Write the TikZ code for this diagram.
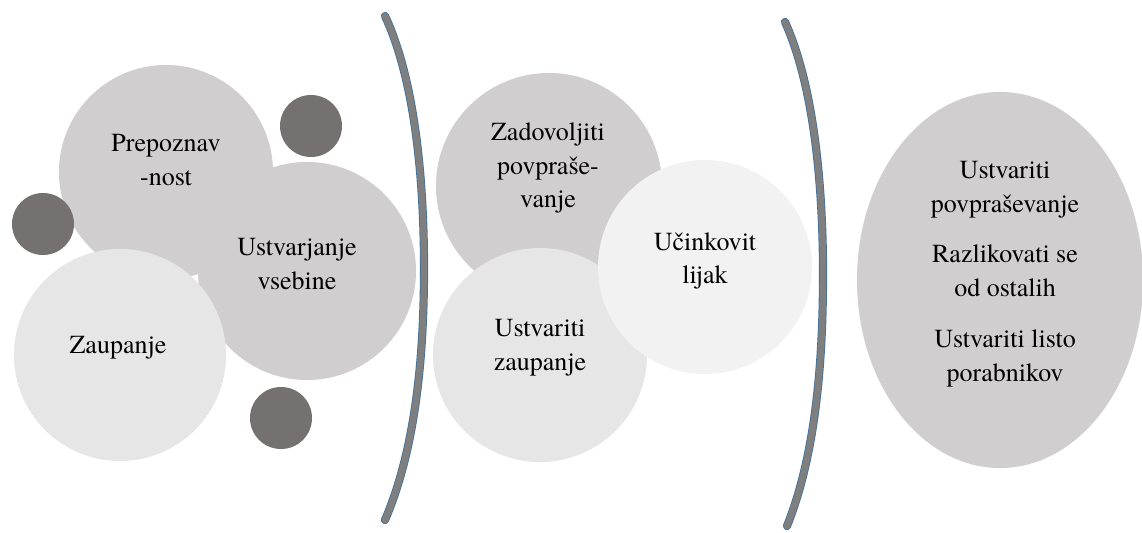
\documentclass[tikz,border=0pt]{standalone}
\usepackage{fontspec}
\setmainfont{TeX Gyre Termes}
\usetikzlibrary{shapes.geometric}
\definecolor{grayA}{HTML}{D0CECE}
\definecolor{grayB}{HTML}{E7E6E6}
\definecolor{grayC}{HTML}{F2F2F2}
\definecolor{dotgray}{HTML}{767171}
\definecolor{bracegray}{HTML}{7F7F7F}
\definecolor{braceblue}{HTML}{41719C}

\begin{document}
\begin{tikzpicture} [x=0.025cm,y=-0.025cm,myc/.style={circle, inner sep=0pt, minimum size=5.4cm},myd/.style={circle, fill=dotgray, inner sep=0pt, minimum size=1.55cm},myt/.style={align=center, inner sep=0pt, font=\rmfamily\fontsize{18.5}{24}\selectfont},myb/.style={draw=bracegray, line width=4.6pt, line cap=round, preaction={draw=braceblue, line width=5.8pt, line cap=round}}]
  \useasboundingbox (0,0) rectangle (1142,532);

  % first group
  \node[myc, fill=grayA, minimum size=5.35cm] (prep) at (166,172) {};
  \node[myc, fill=grayA, minimum size=5.45cm] (vseb) at (307,271) {};
  \node[myc, fill=grayB, minimum size=5.3cm] (zaup) at (120,355) {};

  \node[myd] (d1) at (311,126) {};
  \node[myd] (d2) at (43,224) {};
  \node[myd] (d3) at (281,418) {};

  \node[myt] (prept) at (166,160) {Prepoznav\\-nost};
  \node[myt] (vsebt) at (297,264) {Ustvarjanje\\vsebine};
  \node[myt] (zaupt) at (118,348) {Zaupanje};

  \draw[myb] (385,16) .. controls (415,80) and (424,180) .. (424,268)
    .. controls (424,360) and (415,450) .. (385,520);

  % second group
  \node[myc, fill=grayA, minimum size=5.65cm] (zado) at (549,186) {};
  \node[myc, fill=grayB, minimum size=5.35cm] (ustz) at (540,355) {};
  \node[myc, fill=grayC, minimum size=5.35cm] (lijak) at (705,267) {};

  \node[myt] (zadot) at (548,168) {Zadovoljiti\\povpraše-\\vanje};
  \node[myt] (ustzt) at (540,348) {Ustvariti\\zaupanje};
  \node[myt] (lijakt) at (705,261) {Učinkovit\\lijak};

  \draw[myb] (785,22) .. controls (814,86) and (823,186) .. (823,274)
    .. controls (823,366) and (815,456) .. (787,526);

  % result
  \node[ellipse, fill=grayA, inner sep=0pt, minimum width=7.15cm, minimum height=9.4cm] (cilj) at (1000,280) {};
  \node[myt] (ciljt) at (1005,274) {Ustvariti\\povpraševanje\\[12pt]Razlikovati se\\od ostalih\\[12pt]Ustvariti listo\\porabnikov};

\end{tikzpicture}
\end{document}
